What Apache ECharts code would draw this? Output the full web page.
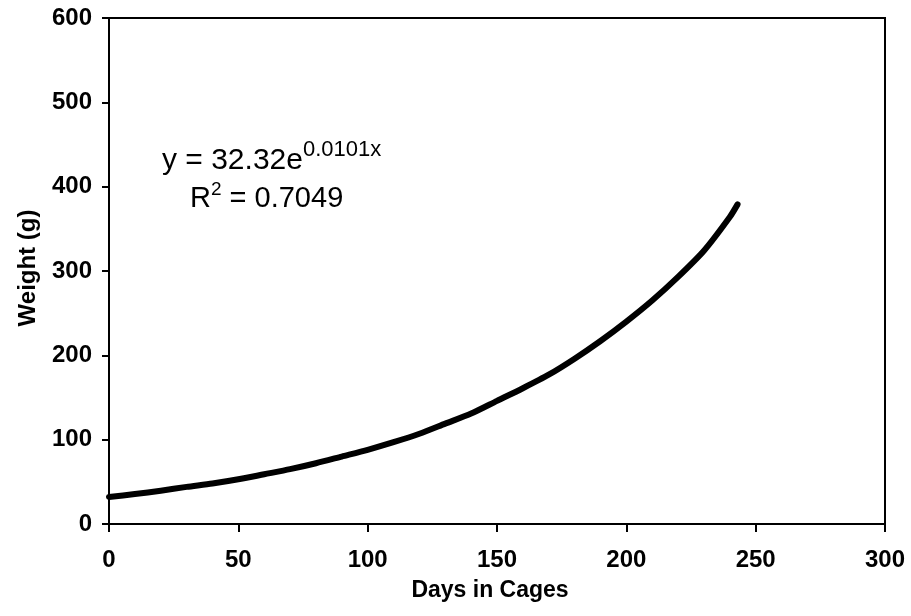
<!DOCTYPE html>
<html>
<head>
<meta charset="utf-8">
<script src="https://cdn.jsdelivr.net/npm/echarts@6/dist/echarts.min.js"></script>
<style>
  html, body { margin: 0; padding: 0; background: #fff; }
  #chart { width: 911px; height: 616px; }
</style>
</head>
<body>
<div id="chart"></div>
<script>
// Exponential growth trend of body weight over time in cages
const days = [0, 10, 20, 30, 40, 50, 60, 70, 80, 90, 100, 110, 120, 130, 140, 150, 160, 170, 180, 190, 200, 210, 220, 230, 240, 243];
const weights = [32, 35.5, 39.5, 44, 48, 53, 59, 65, 72, 80, 88, 97, 107, 119, 131, 146, 161, 177, 196, 217, 240, 265, 293, 324, 364, 379];
const xTicks = [0, 50, 100, 150, 200, 250, 300];
const yTicks = [0, 100, 200, 300, 400, 500, 600];
const equationText = 'y = 32.32e';
const exponentText = '0.0101x';
const r2Text = ' = 0.7049';

const FONT = "'Liberation Sans', Arial, Helvetica, sans-serif";

const chart = echarts.init(document.getElementById('chart'), null, { renderer: 'canvas' });

const option = {
  backgroundColor: '#ffffff',
  animation: false,
  grid: {
    left: 109, top: 18, right: 26, bottom: 92,
    show: true, borderColor: '#000', borderWidth: 2, backgroundColor: 'transparent'
  },
  xAxis: {
    type: 'value',
    min: xTicks[0], max: xTicks[xTicks.length - 1], interval: xTicks[1] - xTicks[0],
    axisLine: { show: true, lineStyle: { color: '#000', width: 2 } },
    axisTick: { show: true, inside: false, length: 8, lineStyle: { color: '#000', width: 2 } },
    splitLine: { show: false },
    axisLabel: { color: '#000', fontFamily: FONT, fontWeight: 'bold', fontSize: 24, margin: 24 }
  },
  yAxis: {
    type: 'value',
    min: yTicks[0], max: yTicks[yTicks.length - 1], interval: yTicks[1] - yTicks[0],
    axisLine: { show: true, lineStyle: { color: '#000', width: 2 } },
    axisTick: { show: true, inside: false, length: 7, lineStyle: { color: '#000', width: 2 } },
    splitLine: { show: false },
    axisLabel: { color: '#000', fontFamily: FONT, fontWeight: 'bold', fontSize: 24, margin: 17 }
  },
  series: [{
    type: 'line',
    data: days.map((d, i) => [d, weights[i]]),
    smooth: 0.25,
    symbol: 'none',
    lineStyle: { color: '#000', width: 6, cap: 'round', join: 'round' }
  }],
  graphic: [
    {
      type: 'text', left: 162, top: 139,
      style: {
        text: '{m|' + equationText + '}{s|' + exponentText + '}',
        rich: {
          m: { fontFamily: FONT, fontSize: 30, fill: '#000', verticalAlign: 'bottom' },
          s: { fontFamily: FONT, fontSize: 22, fill: '#000', padding: [0, 0, 15, 0], verticalAlign: 'bottom' }
        }
      }
    },
    {
      type: 'text', left: 190, top: 180,
      style: {
        text: '{m|R}{s|2}{m|' + r2Text + '}',
        rich: {
          m: { fontFamily: FONT, fontSize: 29, fill: '#000', verticalAlign: 'bottom' },
          s: { fontFamily: FONT, fontSize: 19, fill: '#000', padding: [0, 0, 14, 0], verticalAlign: 'bottom' }
        }
      }
    },
    {
      type: 'text', x: 28, y: 268, rotation: Math.PI / 2,
      style: {
        text: 'Weight (g)', fontFamily: FONT, fontWeight: 'bold', fontSize: 24,
        fill: '#000', align: 'center', verticalAlign: 'middle'
      }
    },
    {
      type: 'text', x: 490, y: 591,
      style: {
        text: 'Days in Cages', fontFamily: FONT, fontWeight: 'bold', fontSize: 23,
        fill: '#000', align: 'center', verticalAlign: 'middle'
      }
    },
    {
      type: 'rect', shape: { x: 571, y: 570, width: 60, height: 40 },
      style: { fill: '#ffffff' }, z: 200
    }
  ]
};

chart.setOption(option);
</script>
</body>
</html>
